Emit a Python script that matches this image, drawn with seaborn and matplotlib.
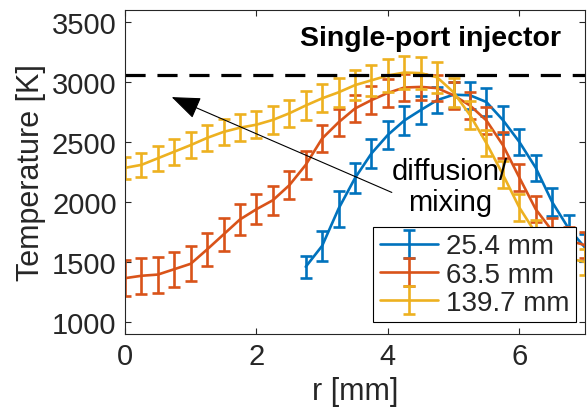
import numpy as np
import pandas as pd
import matplotlib
matplotlib.use("Agg")
import matplotlib.pyplot as plt
import seaborn as sns
from matplotlib.legend_handler import HandlerTuple

# ---- data ----
r_blue = [2.75, 3.0, 3.25, 3.5, 3.75, 4.0, 4.25, 4.5, 4.75, 5.0, 5.25, 5.5, 5.75, 6.0, 6.25, 6.5, 6.75, 7.0]
T_blue = [1460, 1635, 1945, 2200, 2405, 2560, 2680, 2767, 2850, 2895, 2890, 2834, 2684, 2502, 2286, 2000, 1780, 1620]
e_blue = [90, 125, 150, 127, 120, 118, 118, 115, 110, 110, 115, 115, 115, 110, 110, 115, 110, 110]

r_orange = [0.0, 0.25, 0.5, 0.75, 1.0, 1.25, 1.5, 1.75, 2.0, 2.25, 2.5, 2.75, 3.0, 3.25, 3.5, 3.75, 4.0,
            4.25, 4.5, 4.75, 5.0, 5.25, 5.5, 5.75, 6.0, 6.25, 6.5, 6.75, 7.0]
T_orange = [1365, 1385, 1395, 1440, 1485, 1605, 1730, 1855, 1940, 2015, 2140, 2310, 2530, 2665, 2780, 2850, 2910,
            2955, 2960, 2950, 2890, 2805, 2680, 2475, 2205, 1940, 1760, 1680, 1640]
e_orange = [150, 150, 150, 145, 145, 140, 135, 130, 125, 120, 116, 115, 115, 115, 115, 115, 115,
            115, 110, 110, 110, 110, 110, 110, 110, 110, 110, 110, 110]

r_yellow = [0.0, 0.25, 0.5, 0.75, 1.0, 1.25, 1.5, 1.75, 2.0, 2.25, 2.5, 2.75, 3.0, 3.25, 3.5, 3.75, 4.0,
            4.25, 4.5, 4.75, 5.0, 5.25, 5.5, 5.75, 6.0, 6.25, 6.5, 6.75, 7.0]
T_yellow = [2285, 2310, 2365, 2420, 2475, 2535, 2585, 2620, 2645, 2685, 2740, 2805, 2865, 2915, 2975, 3015, 3055,
            3080, 3075, 3040, 2915, 2725, 2490, 2230, 1955, 1740, 1600, 1530, 1500]
e_yellow = [92, 100, 105, 108, 110, 110, 111, 112, 112, 114, 115, 117, 118, 120, 125, 130, 135,
            137, 135, 130, 120, 115, 110, 110, 110, 110, 110, 105, 105]

labels = ["25.4 mm", "63.5 mm", "139.7 mm"]
colors = ["#0072BD", "#D95319", "#EDB120"]
T_adiabatic = 3060

# ---- style ----
sns.set_theme(style="ticks")
plt.rcParams["font.family"] = ["Liberation Sans", "DejaVu Sans"]
axcol = "#262626"

fig = plt.figure(figsize=(5.87, 4.14), dpi=100)
ax = fig.add_axes([0.213, 0.191, 0.7836, 0.782])

series = [(r_blue, T_blue, e_blue), (r_orange, T_orange, e_orange), (r_yellow, T_yellow, e_yellow)]
handles = []
for (r, T, e), lab, c in zip(series, labels, colors):
    df = pd.DataFrame({"r": r, "T": T})
    sns.lineplot(data=df, x="r", y="T", ax=ax, color=c, lw=1.9, legend=False)
    ln = ax.lines[-1]
    cont = ax.errorbar(r, T, yerr=e, fmt="none", ecolor=c, elinewidth=1.9, capsize=4, capthick=1.9)
    handles.append((ln, cont))

ax.axhline(T_adiabatic, color="black", lw=2.3, dashes=(6.3, 3.7))

ax.set_xlim(0, 7)
ax.set_ylim(900, 3600)
ax.set_xticks([0, 2, 4, 6])
ax.set_yticks([1000, 1500, 2000, 2500, 3000, 3500])
ax.tick_params(direction="in", length=4, width=0.8, top=True, right=True,
               labelsize=21, colors=axcol, pad=6)
for s in ax.spines.values():
    s.set_visible(True)
    s.set_color(axcol)
    s.set_linewidth(0.8)

ax.set_xlabel("r [mm]", fontsize=22, color=axcol, labelpad=4)
ax.set_ylabel("Temperature [K]", fontsize=22, color=axcol, labelpad=4)

ax.text(4.65, 3365, "Single-port injector", fontsize=20.5, fontweight="bold",
        ha="center", va="center", color="black")
ax.text(4.95, 2130, "diffusion/\nmixing", fontsize=21, ha="center", va="center",
        color="black", linespacing=1.1)
ax.annotate("", xy=(0.71, 2875), xytext=(4.06, 2080),
            arrowprops=dict(arrowstyle="-|>,head_length=0.9,head_width=0.35",
                            color="black", lw=0.8, mutation_scale=20, shrinkA=0, shrinkB=0))

leg = ax.legend(handles, labels, handler_map={tuple: HandlerTuple(ndivide=1)},
                loc="lower right", bbox_to_anchor=(0.98, 0.037), fontsize=20,
                frameon=True, fancybox=False, edgecolor="black", framealpha=1,
                handlelength=2.1, borderpad=0.22, labelspacing=0.08, handletextpad=0.3,
                borderaxespad=0)
leg.get_frame().set_linewidth(0.8)

fig.savefig("out.png", dpi=100)
